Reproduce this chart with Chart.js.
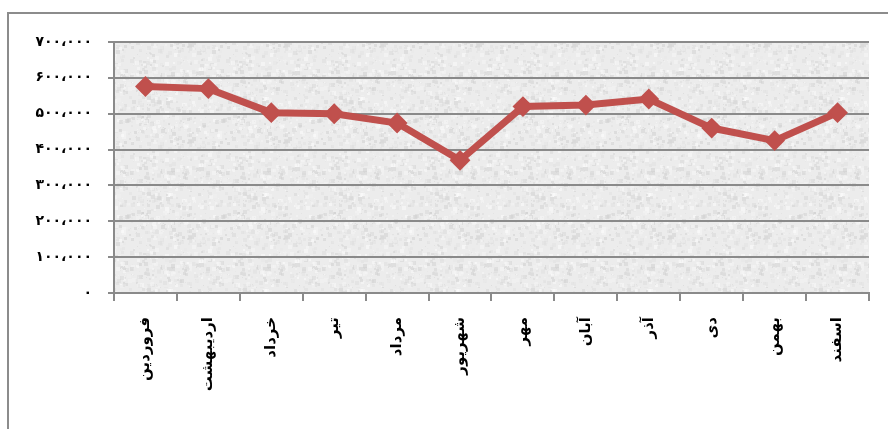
<!DOCTYPE html>
<html>
<head>
<meta charset="utf-8">
<script src="https://cdn.jsdelivr.net/npm/chart.js@4.4.1/dist/chart.umd.min.js"></script>
<style>
  html, body { margin: 0; padding: 0; background: #fff; }
  #wrap { width: 888px; height: 429px; position: relative; }
</style>
</head>
<body>
<div id="wrap"><canvas id="salesChart"></canvas></div>
<script>
// Months (Persian calendar)
const months = ['فروردین', 'اردیبهشت', 'خرداد', 'تیر', 'مرداد', 'شهریور', 'مهر', 'آبان', 'آذر', 'دی', 'بهمن', 'اسفند'];
// Monthly values
const values = [576000, 570000, 503000, 500000, 474000, 370000, 520000, 524000, 541000, 460000, 425000, 503000];
// Y tick labels, Persian digits
const yTickLabels = ['۰', '۱۰۰،۰۰۰', '۲۰۰،۰۰۰', '۳۰۰،۰۰۰', '۴۰۰،۰۰۰', '۵۰۰،۰۰۰', '۶۰۰،۰۰۰', '۷۰۰،۰۰۰'];

const FONT = "'DejaVu Sans', sans-serif";
const GRID = '#8a8a8a';

// light grey speckled texture, same every time (simple LCG)
function makeTexture() {
    const c = document.createElement('canvas');
    c.width = 96; c.height = 96;
    const g = c.getContext('2d');
    g.fillStyle = '#ececec';
    g.fillRect(0, 0, 96, 96);
    let seed = 12345;
    const next = () => { seed = (seed * 1103515245 + 12345) % 2147483648; return seed / 2147483648; };
    for (let i = 0; i < 700; i++) {
        const x = Math.floor(next() * 96), y = Math.floor(next() * 96);
        const s = 1 + Math.floor(next() * 4);
        const shade = 205 + Math.floor(next() * 50);
        g.fillStyle = `rgb(${shade},${shade},${shade})`;
        g.globalAlpha = 0.5;
        g.fillRect(x, y, s, s);
    }
    return c;
}

const backdrop = {
    id: 'backdrop',
    beforeDraw(chart) {
        const { ctx, chartArea: a } = chart;
        ctx.save();
        ctx.fillStyle = ctx.createPattern(makeTexture(), 'repeat');
        ctx.fillRect(a.left, a.top, a.right - a.left, a.bottom - a.top);
        ctx.restore();
    },
    afterDraw(chart) {
        // outer frame: left and top edges only
        const ctx = chart.ctx;
        ctx.save();
        ctx.strokeStyle = '#8c8c8c';
        ctx.lineWidth = 2;
        ctx.beginPath();
        ctx.moveTo(8, 429);
        ctx.lineTo(8, 13);
        ctx.lineTo(888, 13);
        ctx.stroke();
        ctx.restore();
    }
};

const ctx = document.getElementById('salesChart').getContext('2d');
new Chart(ctx, {
    type: 'line',
    data: {
        labels: months,
        datasets: [{
            data: values,
            borderColor: '#c0504d',
            backgroundColor: '#c0504d',
            borderWidth: 7,
            pointStyle: 'rectRot',
            pointRadius: 9,
            pointBorderWidth: 2,
            pointBackgroundColor: '#c0504d',
            pointBorderColor: '#c0504d',
            tension: 0
        }]
    },
    options: {
        responsive: true,
        maintainAspectRatio: false,
        animation: false,
        layout: { padding: { top: 42, right: 19, left: 0, bottom: 0 } },
        plugins: { legend: { display: false }, tooltip: { enabled: false } },
        scales: {
            x: {
                offset: true,
                afterFit: s => { s.height = 136; },
                border: { display: true, color: GRID, width: 2 },
                grid: { drawOnChartArea: false, drawTicks: true, tickLength: 8, color: GRID, lineWidth: 2, offset: true },
                ticks: {
                    autoSkip: false,
                    minRotation: 90,
                    maxRotation: 90,
                    padding: 16,
                    color: '#000',
                    font: { family: FONT, size: 15, weight: 'bold' }
                }
            },
            y: {
                min: 0,
                max: 700000,
                afterFit: s => { s.width = 114; },
                border: { display: true, color: GRID, width: 2 },
                grid: { color: GRID, lineWidth: 2, tickLength: 6 },
                ticks: {
                    stepSize: 100000,
                    padding: 16,
                    color: '#000',
                    font: { family: FONT, size: 14, weight: 'bold' },
                    callback: v => yTickLabels[Math.round(v / 100000)]
                }
            }
        }
    },
    plugins: [backdrop]
});
</script>
</body>
</html>
